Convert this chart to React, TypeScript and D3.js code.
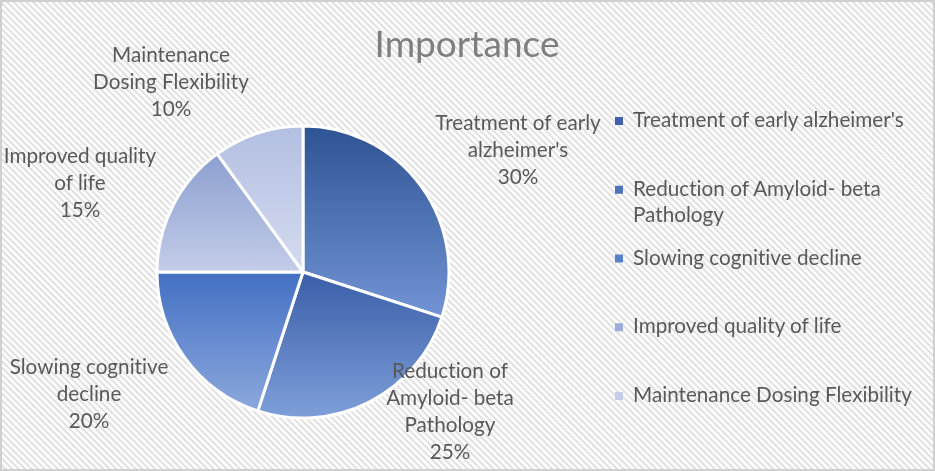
import React from "react";
import * as d3 from "d3";

const categories = [
  "Treatment of early alzheimer's",
  "Reduction of Amyloid- beta Pathology",
  "Slowing cognitive decline",
  "Improved quality of life",
  "Maintenance Dosing Flexibility",
];
const values = [30, 25, 20, 15, 10];
const percentLabels = ["30%", "25%", "20%", "15%", "10%"];
const labelLines = [
  ["Treatment of early", "alzheimer's"],
  ["Reduction of", "Amyloid- beta", "Pathology"],
  ["Slowing cognitive", "decline"],
  ["Improved quality", "of life"],
  ["Maintenance", "Dosing Flexibility"],
];
const legendLines = [
  ["Treatment of early alzheimer's"],
  ["Reduction of Amyloid- beta", "Pathology"],
  ["Slowing cognitive decline"],
  ["Improved quality of life"],
  ["Maintenance Dosing Flexibility"],
];
const gradTop = ["#2E5393", "#3A5EA8", "#4370C3", "#8C9FD0", "#B3BFE2"];
const gradBottom = ["#7294D5", "#7E9FD9", "#8CA8DD", "#C4CDE9", "#D5DBEF"];
const legendColors = ["#3F62AE", "#4D72BE", "#5580CC", "#9AAEDC", "#C3CDEA"];

const W = 935;
const H = 471;
const FONT = "Lato, 'Open Sans', sans-serif";
const TEXT = "#595959";
const cx = 303;
const cy = 272;
const R = 146;
const lineH = 27;
const fs = 20.7;

// label anchors (center x, first baseline)
const labelPos = [
  [518, 130],
  [450, 378],
  [89, 374],
  [80, 163],
  [171, 62],
];

export default function App() {
  const pie = d3.pie<number>().sort(null).value((d) => d)(values);
  const arc = d3.arc<d3.PieArcDatum<number>>().innerRadius(0).outerRadius(R);
  const legendY = d3.scaleLinear().domain([0, 4]).range([127, 402]);

  return (
    <svg
      width={W}
      height={H}
      style={{ position: "fixed", left: 0, top: 0, fontVariantLigatures: "none" }}
      fontFamily={FONT}
    >
      <defs>
        <pattern
          id="stripes"
          width="4.6"
          height="4.6"
          patternUnits="userSpaceOnUse"
          patternTransform="rotate(45)"
        >
          <rect width="4.6" height="4.6" fill="#ffffff" />
          <rect width="4.6" height="2" fill="#e0e0e0" />
        </pattern>
        {values.map((_, i) => (
          <linearGradient key={i} id={`g${i}`} x1="0" y1="0" x2="0" y2="1">
            <stop offset="0" stopColor={gradTop[i]} />
            <stop offset="1" stopColor={gradBottom[i]} />
          </linearGradient>
        ))}
      </defs>
      <rect x={0} y={0} width={W} height={H} fill="url(#stripes)" />
      <rect
        x={1}
        y={1}
        width={W - 2}
        height={H - 2}
        fill="none"
        stroke="#d0d0d0"
        strokeWidth={2}
      />
      <text x={467} y={57} textAnchor="middle" fontSize={37} fill="#7f7f7f">
        Importance
      </text>
      <g transform={`translate(${cx},${cy})`}>
        {pie.map((p, i) => (
          <path
            key={i}
            d={arc(p) || ""}
            fill={`url(#g${i})`}
            stroke="#ffffff"
            strokeWidth={3}
            strokeLinejoin="round"
          />
        ))}
      </g>
      {labelLines.map((lines, i) => (
        <text key={i} textAnchor="middle" fontSize={fs} fill={TEXT}>
          {[...lines, percentLabels[i]].map((l, j) => (
            <tspan key={j} x={labelPos[i][0]} y={labelPos[i][1] + j * lineH}>
              {l}
            </tspan>
          ))}
        </text>
      ))}
      {legendLines.map((lines, i) => (
        <g key={i}>
          <rect
            x={615}
            y={legendY(i) - 10}
            width={8}
            height={8}
            fill={legendColors[i]}
          />
          <text fontSize={fs} fill={TEXT}>
            {lines.map((l, j) => (
              <tspan key={j} x={633} y={legendY(i) + j * 26}>
                {l}
              </tspan>
            ))}
          </text>
        </g>
      ))}
    </svg>
  );
}
